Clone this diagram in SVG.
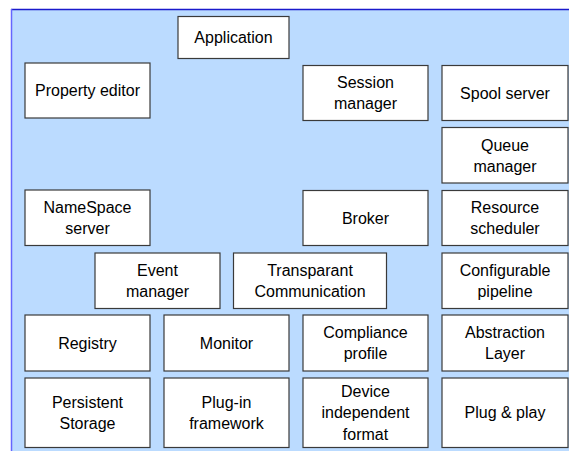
<svg xmlns="http://www.w3.org/2000/svg" width="569" height="451" viewBox="0 0 569 451">
<style>
.bx{fill:#ffffff;stroke:#3a3a3a;stroke-width:1.2}
.t{font-family:"Liberation Sans",Arial,sans-serif;font-size:16px;fill:#000;text-anchor:middle;dominant-baseline:central}
</style>
<rect x="0" y="0" width="569" height="451" fill="#ffffff"/>
<rect x="11" y="9" width="560" height="445" fill="#bbdbff"/>
<line x1="11" y1="9.5" x2="569" y2="9.5" stroke="#1a1acc" stroke-width="1.5"/>
<line x1="11.5" y1="9" x2="11.5" y2="451" stroke="#6666ff" stroke-width="1.5"/>
<g id="connectors"></g>
<g id="application"><rect class="bx" x="178" y="16.5" width="111" height="42"/><text class="t" x="233.5" y="37.5">Application</text></g>
<g id="property-editor"><rect class="bx" x="25" y="63" width="125" height="55"/><text class="t" x="87.5" y="90.5">Property editor</text></g>
<g id="session-manager"><rect class="bx" x="303" y="65.5" width="125" height="55"/><text class="t" x="365.5" y="82.5">Session</text><text class="t" x="365.5" y="103.5">manager</text></g>
<g id="spool-server"><rect class="bx" x="442" y="65.5" width="126" height="55"/><text class="t" x="505" y="93">Spool server</text></g>
<g id="queue-manager"><rect class="bx" x="442" y="127.5" width="126" height="55.5"/><text class="t" x="505" y="145">Queue</text><text class="t" x="505" y="166">manager</text></g>
<g id="namespace-server"><rect class="bx" x="25" y="190" width="125" height="55.5"/><text class="t" x="87.5" y="207.5">NameSpace</text><text class="t" x="87.5" y="228.5">server</text></g>
<g id="broker"><rect class="bx" x="303" y="190.5" width="125" height="55"/><text class="t" x="365.5" y="218">Broker</text></g>
<g id="resource-scheduler"><rect class="bx" x="442" y="190.5" width="126" height="55"/><text class="t" x="505" y="207.5">Resource</text><text class="t" x="505" y="228.5">scheduler</text></g>
<g id="event-manager"><rect class="bx" x="95" y="253" width="125" height="55.5"/><text class="t" x="157.5" y="270">Event</text><text class="t" x="157.5" y="291">manager</text></g>
<g id="transparant-communication"><rect class="bx" x="233.5" y="253" width="153" height="55.5"/><text class="t" x="310" y="270">Transparant</text><text class="t" x="310" y="291">Communication</text></g>
<g id="configurable-pipeline"><rect class="bx" x="442" y="253" width="126" height="55.5"/><text class="t" x="505" y="270">Configurable</text><text class="t" x="505" y="291">pipeline</text></g>
<g id="registry"><rect class="bx" x="25" y="315" width="125" height="56"/><text class="t" x="87.5" y="343">Registry</text></g>
<g id="monitor"><rect class="bx" x="164" y="315" width="125" height="56"/><text class="t" x="226.5" y="343">Monitor</text></g>
<g id="compliance-profile"><rect class="bx" x="303" y="315" width="125" height="56"/><text class="t" x="365.5" y="332.5">Compliance</text><text class="t" x="365.5" y="353.5">profile</text></g>
<g id="abstraction-layer"><rect class="bx" x="442" y="315" width="126" height="56"/><text class="t" x="505" y="332.5">Abstraction</text><text class="t" x="505" y="353.5">Layer</text></g>
<g id="persistent-storage"><rect class="bx" x="25" y="378" width="125" height="69.5"/><text class="t" x="87.5" y="402">Persistent</text><text class="t" x="87.5" y="423">Storage</text></g>
<g id="plug-in-framework"><rect class="bx" x="164" y="378" width="125" height="69.5"/><text class="t" x="226.5" y="402">Plug-in</text><text class="t" x="226.5" y="423">framework</text></g>
<g id="device-independent-format"><rect class="bx" x="303" y="378" width="125" height="69.5"/><text class="t" x="365.5" y="391">Device</text><text class="t" x="365.5" y="412.5">independent</text><text class="t" x="365.5" y="434">format</text></g>
<g id="plug-and-play"><rect class="bx" x="442" y="378" width="126" height="69.5"/><text class="t" x="505" y="412.5">Plug &amp; play</text></g>
</svg>
